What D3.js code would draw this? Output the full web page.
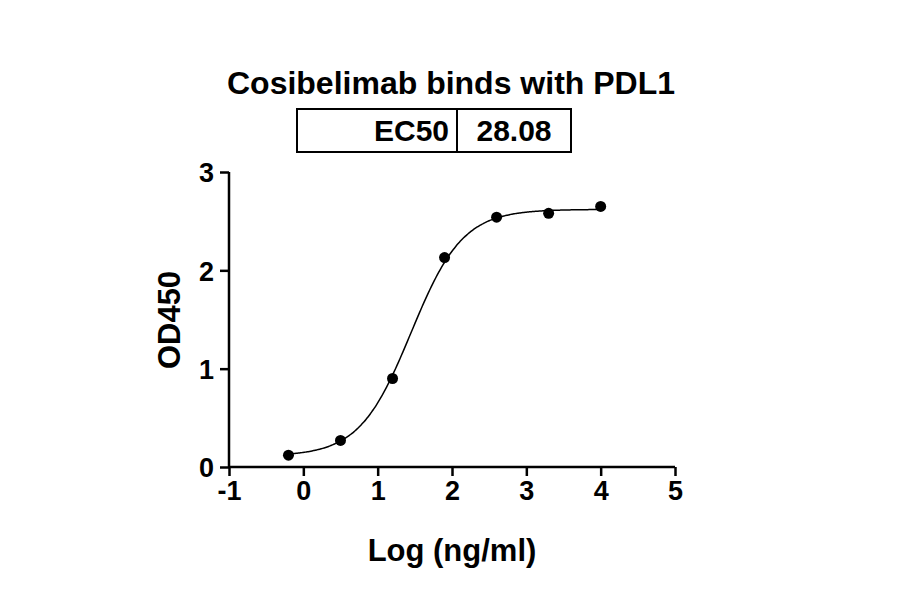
<!DOCTYPE html>
<html><head><meta charset="utf-8">
<script src="https://cdn.jsdelivr.net/npm/d3@7.9.0/dist/d3.min.js"></script>
<style>body{margin:0;background:#fff}svg{font-family:"Liberation Sans",Arial,sans-serif;font-weight:bold}</style>
</head><body><svg width="900" height="594"></svg>
<script>
const logConc = [-0.2, 0.5, 1.2, 1.9, 2.6, 3.3, 4.0];
const od450 = [0.12, 0.27, 0.90, 2.13, 2.54, 2.58, 2.65];
const xTicks = [-1, 0, 1, 2, 3, 4, 5];
const yTicks = [0, 1, 2, 3];
const ec50 = 28.08;
const fit = { bottom: 0.11, top: 2.62, hill: 1.25 };

const svg = d3.select("svg");
const x = d3.scaleLinear().domain([-1, 5]).range([229, 675]);
const y = d3.scaleLinear().domain([0, 3]).range([467, 172]);

const xa = svg.append("g").attr("transform", "translate(0,467)")
  .call(d3.axisBottom(x).tickValues(xTicks).tickFormat(d => String(d)).tickSize(9).tickPadding(5));
const ya = svg.append("g").attr("transform", "translate(229,0)")
  .call(d3.axisLeft(y).tickValues(yTicks).tickFormat(d => String(d)).tickSize(9).tickPadding(6));
[xa, ya].forEach(a => {
  a.selectAll("path,line").attr("stroke", "#000").attr("stroke-width", 2.5);
  a.selectAll("text").attr("font-size", 27).attr("font-weight", "bold").attr("fill", "#000")
   .attr("font-family", "Liberation Sans, Arial, sans-serif");
});
ya.selectAll("text").attr("dy", "0.36em");
xa.select("path").attr("d", "M229,0H675");
ya.select("path").attr("d", "M0,467V172");

const logEC = Math.log10(ec50);
const curveX = d3.range(-0.2, 4.001, 0.02);
const model = v => fit.bottom + (fit.top - fit.bottom) / (1 + Math.pow(10, (logEC - v) * fit.hill));
svg.append("path").datum(curveX)
  .attr("d", d3.line().x(d => x(d)).y(d => y(model(d))).curve(d3.curveBasis))
  .attr("fill", "none").attr("stroke", "#000").attr("stroke-width", 1.5);

svg.selectAll("circle").data(logConc).join("circle")
  .attr("cx", d => x(d)).attr("cy", (d, i) => y(od450[i])).attr("r", 5.5).attr("fill", "#000");

svg.append("text").attr("x", 451).attr("y", 94).attr("text-anchor", "middle")
  .attr("font-size", 32).text("Cosibelimab binds with PDL1");
svg.append("rect").attr("x", 297).attr("y", 109).attr("width", 274).attr("height", 43)
  .attr("fill", "none").attr("stroke", "#000").attr("stroke-width", 2);
svg.append("line").attr("x1", 457).attr("x2", 457).attr("y1", 109).attr("y2", 152)
  .attr("stroke", "#000").attr("stroke-width", 2);
svg.append("text").attr("x", 449).attr("y", 141).attr("text-anchor", "end").attr("font-size", 30).text("EC50");
svg.append("text").attr("x", 514).attr("y", 141).attr("text-anchor", "middle").attr("font-size", 30).text(ec50.toFixed(2));

svg.append("text").attr("x", 452).attr("y", 561).attr("text-anchor", "middle").attr("font-size", 31).text("Log (ng/ml)");
svg.append("text").attr("transform", "translate(180,320) rotate(-90)").attr("text-anchor", "middle")
  .attr("font-size", 31).text("OD450");
</script></body></html>
